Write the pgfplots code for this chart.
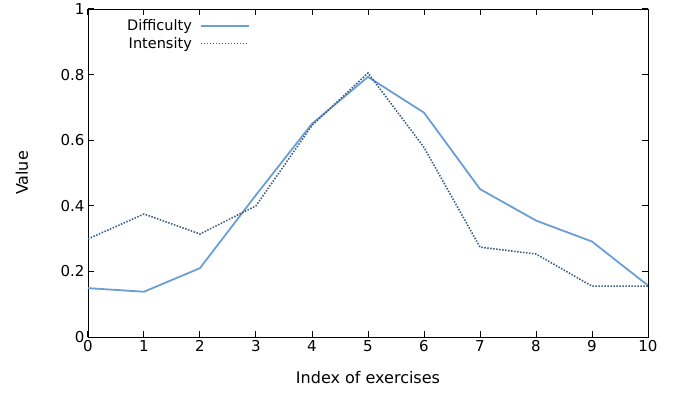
\documentclass[border=0pt]{standalone}
\usepackage{fontspec}
\setmainfont{DejaVu Sans}
\usepackage{pgfplots}
\pgfplotsset{compat=1.18}
\usetikzlibrary{calc}
\definecolor{difc}{HTML}{6A9FD4}
\definecolor{intc}{HTML}{3F5F88}
\begin{document}
\begin{tikzpicture}
\begin{axis}[
 scale only axis, width=560pt, height=328pt,
 xmin=0, xmax=10, ymin=0, ymax=1,
 xtick={0,1,2,3,4,5,6,7,8,9,10},
 ytick={0,0.2,0.4,0.6,0.8,1},
 yticklabels={0,0.2,0.4,0.6,0.8,1},
 tick align=inside, major tick length=6pt,
 tick style={black, line width=1pt},
 axis line style={line width=0.8pt},
 ticklabel style={font=\fontsize{15}{17}\selectfont},
 /pgf/number format/assume math mode=true,
 xlabel={Index of exercises}, ylabel={Value},
 xlabel style={at={(axis description cs:0.5,-0.125)}, anchor=center, font=\fontsize{16}{18}\selectfont},
 ylabel style={at={(axis description cs:-0.118,0.5)}, anchor=center, rotate=0, font=\fontsize{16}{18}\selectfont},
 legend style={at={(rel axis cs:0.289,0.975)}, anchor=north east, draw=none, fill=none,
   font=\fontsize{14.5}{16}\selectfont, row sep=1.2pt, column sep=6pt, inner sep=0pt},
 legend cell align=right, legend plot pos=right,
 legend image code/.code={\draw[#1] (0pt,0pt) -- (48pt,0pt);},
]
\addplot[difc, line width=1.8pt] coordinates {
(0,0.149) (1,0.138) (2,0.21) (3,0.433) (4,0.65) (5,0.793) (6,0.684) (7,0.451) (8,0.355) (9,0.291) (10,0.157)};
\addlegendentry{Difficulty}
\addplot[intc, line width=1.6pt, dash pattern=on 1.5pt off 1.5pt] coordinates {
(0,0.299) (1,0.375) (2,0.314) (3,0.40) (4,0.645) (5,0.805) (6,0.578) (7,0.274) (8,0.253) (9,0.155) (10,0.155)};
\addlegendentry{Intensity}
\end{axis}
\pgfresetboundingbox
\path[use as bounding box] ($(current axis.south west)+(-88pt,-57pt)$) rectangle ($(current axis.north east)+(27pt,9pt)$);
\end{tikzpicture}
\end{document}
